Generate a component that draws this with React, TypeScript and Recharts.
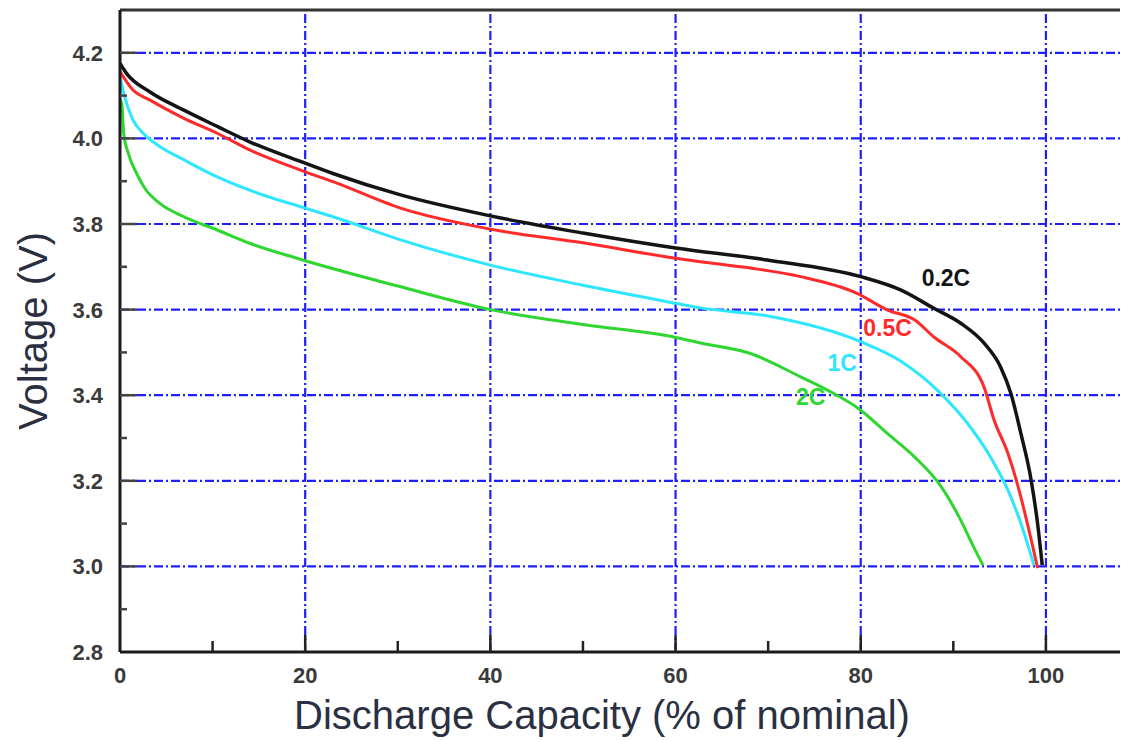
import React from 'react';
import { LineChart, Line, XAxis, YAxis, ReferenceLine, ReferenceDot, Label } from 'recharts';

// ---- data (Discharge capacity % , Voltage V) ----
const c02X = [0, 0.7, 3.2, 6.9, 10.5, 14, 20, 23, 30.3, 40, 50, 60, 69.9, 80, 84.3, 87.9, 90.8, 93.3, 95.1, 96.2, 97.3, 98.4, 99.1, 99.6];
const c02V = [4.175, 4.152, 4.109, 4.066, 4.028, 3.992, 3.942, 3.918, 3.868, 3.819, 3.779, 3.744, 3.716, 3.677, 3.646, 3.603, 3.568, 3.522, 3.466, 3.405, 3.31, 3.202, 3.1, 3.003];

const c05X = [0, 1.4, 3.2, 6.9, 10.5, 14, 20, 23, 30.3, 40, 50, 60, 62.7, 68.1, 73.5, 79.6, 82.9, 85.8, 87.9, 90.8, 93.3, 94.4, 95.9, 96.9, 98, 99.1];
const c05V = [4.156, 4.113, 4.09, 4.047, 4.012, 3.973, 3.922, 3.899, 3.837, 3.788, 3.756, 3.72, 3.712, 3.697, 3.677, 3.638, 3.599, 3.576, 3.536, 3.49, 3.42, 3.342, 3.264, 3.194, 3.1, 2.996];

const c1X = [0, 0.5, 1.4, 2.5, 4.3, 6.9, 10.5, 14, 20, 23, 30.3, 40, 50, 60, 62.7, 70, 80, 84.3, 88.6, 91.5, 94, 95.9, 97.3, 98.7];
const c1V = [4.144, 4.097, 4.043, 4.012, 3.981, 3.95, 3.91, 3.879, 3.837, 3.817, 3.763, 3.704, 3.657, 3.615, 3.604, 3.585, 3.525, 3.48, 3.405, 3.335, 3.256, 3.178, 3.1, 3.003];

const c2X = [0, 0.2, 0.4, 0.9, 1.8, 2.7, 4.3, 6.9, 10.5, 14, 19.1, 30, 40, 50, 60, 62.7, 68, 73.5, 76.4, 80, 82.9, 85.8, 88.7, 90.8, 92.2, 93.2];
const c2V = [4.09, 4.08, 4.012, 3.965, 3.918, 3.883, 3.848, 3.817, 3.786, 3.755, 3.72, 3.655, 3.6, 3.565, 3.535, 3.522, 3.498, 3.443, 3.412, 3.365, 3.31, 3.256, 3.186, 3.108, 3.045, 3.003];

const xTicks = [0, 10, 20, 30, 40, 50, 60, 70, 80, 90, 100];
const xMajor = [0, 20, 40, 60, 80, 100];
const xGrid = [20, 40, 60, 80, 100];
const yTicks = [2.8, 2.9, 3.0, 3.1, 3.2, 3.3, 3.4, 3.5, 3.6, 3.7, 3.8, 3.9, 4.0, 4.1, 4.2];
const yGrid = [3.0, 3.2, 3.4, 3.6, 3.8, 4.0, 4.2];
const xDomain = [0, 108];
const yDomain = [2.8, 4.3];

const seriesNames = ['0.2C', '0.5C', '1C', '2C'];
const seriesColors = ['#141414', '#ff2a2a', '#2ee6ff', '#2fd62f'];
const labelX = [89.2, 82.9, 78.0, 74.6];
const labelV = [3.674, 3.557, 3.475, 3.396];

const zip = (xs: number[], vs: number[]) => xs.map((x, i) => ({ x, v: vs[i] }));
const seriesData = [zip(c02X, c02V), zip(c05X, c05V), zip(c1X, c1V), zip(c2X, c2V)];

const GRID = '#1e1eff';
const GRID_DASH = '9 3 2 3';
const TICK_FONT = '"Liberation Sans", Arial, sans-serif';

const XTick = (props: any) => {
  const { x, y, payload } = props;
  const v = payload.value;
  const major = xMajor.includes(v);
  return (
    <g>
      {v !== 0 && (
        <line x1={x} x2={x} y1={y} y2={y - (major ? 17 : 11)} stroke="#222" strokeWidth={2.5} />
      )}
      {major && (
        <text x={x} y={y + 31} textAnchor="middle" fontFamily={TICK_FONT} fontWeight="bold" fontSize={22} fill="#3a3a3a">
          {v}
        </text>
      )}
    </g>
  );
};

const YTick = (props: any) => {
  const { x, y, payload } = props;
  const v = payload.value;
  const major = Math.round(v * 10) % 2 === 0;
  return (
    <g>
      {Math.abs(v - 2.8) > 1e-6 && (
        <line x1={x} x2={x + (major ? 17 : 7)} y1={y} y2={y} stroke="#444" strokeWidth={2.5} />
      )}
      {major && (
        <text x={x - 17} y={y + 8} textAnchor="end" fontFamily={TICK_FONT} fontWeight="bold" fontSize={22} fill="#3a3a3a">
          {v.toFixed(1)}
        </text>
      )}
    </g>
  );
};

export default function App() {
  return (
    <div style={{ position: 'absolute', left: 0, top: 0, background: '#fff' }}>
      <LineChart width={1123} height={740} margin={{ top: 10, right: 3, left: 0, bottom: 0 }}>
        <XAxis
          type="number"
          dataKey="x"
          domain={xDomain}
          ticks={xTicks}
          interval={0}
          allowDataOverflow
          height={88}
          tickSize={0}
          tickMargin={0}
          tickLine={false}
          tick={<XTick />}
          axisLine={{ stroke: '#1a1a1a', strokeWidth: 3 }}
        >
          <Label
            value="Discharge Capacity (% of nominal)"
            position="center"
            dx={-18}
            dy={19}
            fontSize={40}
            fontFamily={TICK_FONT}
            fill="#2a3042"
          />
        </XAxis>
        <YAxis
          type="number"
          domain={yDomain}
          ticks={yTicks}
          interval={0}
          allowDataOverflow
          width={120}
          tickSize={0}
          tickMargin={0}
          tickLine={false}
          tick={<YTick />}
          axisLine={{ stroke: '#1a1a1a', strokeWidth: 3 }}
        >
          <Label
            value="Voltage (V)"
            angle={-90}
            position="center"
            dx={-27}
            fontSize={40}
            fontFamily={TICK_FONT}
            fill="#2a3042"
          />
        </YAxis>
        {xGrid.map((gx) => (
          <ReferenceLine key={'gx' + gx} x={gx} stroke={GRID} strokeWidth={2.2} strokeDasharray={GRID_DASH} />
        ))}
        {yGrid.map((gy) => (
          <ReferenceLine key={'gy' + gy} y={gy} stroke={GRID} strokeWidth={2.2} strokeDasharray={GRID_DASH} />
        ))}
        <ReferenceLine y={4.3} stroke="#333" strokeWidth={3} />
        {seriesData.map((d, i) => (
          <Line
            key={seriesNames[i]}
            data={d}
            dataKey="v"
            type="monotone"
            stroke={seriesColors[i]}
            strokeWidth={i === 0 ? 3.5 : 3}
            dot={false}
            isAnimationActive={false}
          />
        ))}
        {seriesNames.map((n, i) => (
          <ReferenceDot
            key={'lbl' + n}
            x={labelX[i]}
            y={labelV[i]}
            r={0}
            fill="none"
            stroke="none"
            label={{
              value: n,
              position: 'center',
              fill: seriesColors[i],
              fontSize: 23,
              fontWeight: 'bold',
              fontFamily: TICK_FONT,
            }}
          />
        ))}
      </LineChart>
    </div>
  );
}
